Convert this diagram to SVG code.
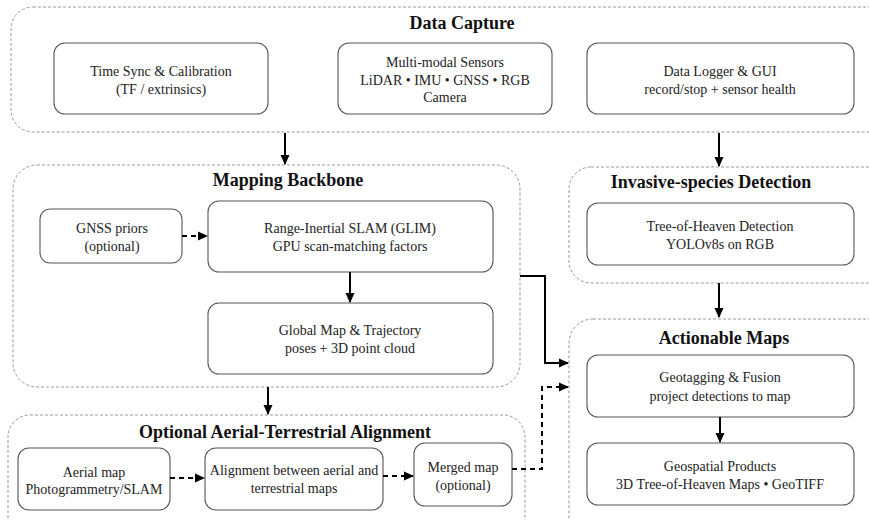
<svg xmlns="http://www.w3.org/2000/svg" width="869" height="520" viewBox="0 0 869 520">
  <style>
    .cluster { fill: none; stroke: #999; stroke-width: 1; stroke-dasharray: 3 2; }
    .node { fill: #fff; stroke: #555; stroke-width: 1.1; }
    .title { font-family: "Liberation Serif", "Times New Roman", serif; font-size: 18px; font-weight: bold; fill: #111; text-anchor: middle; }
    .label { font-family: "Liberation Serif", "Times New Roman", serif; font-size: 14px; fill: #222; text-anchor: middle; }
    .edge { fill: none; stroke: #000; stroke-width: 2; }
    .dashed { stroke-dasharray: 5 4; }
  </style>
  <defs>
    <marker id="arrow" viewBox="0 0 10 10" refX="9" refY="5" markerWidth="10" markerHeight="10" markerUnits="userSpaceOnUse" orient="auto">
      <path d="M0,0.5 L10,5 L0,9.5 z" fill="#000"/>
    </marker>
  </defs>
  <rect width="869" height="520" fill="#fff"/>

  <!-- clusters -->
  <g id="cluster-capture">
    <rect class="cluster" x="11" y="7" width="890" height="125" rx="22"/>
    <text class="title" x="462" y="29">Data Capture</text>
  </g>
  <g id="cluster-mapping">
    <rect class="cluster" x="13" y="165" width="507" height="222" rx="24"/>
    <text class="title" x="288" y="186">Mapping Backbone</text>
  </g>
  <g id="cluster-alignment">
    <rect class="cluster" x="8" y="415" width="517" height="140" rx="22"/>
    <text class="title" x="285" y="438">Optional Aerial-Terrestrial Alignment</text>
  </g>
  <g id="cluster-detection">
    <rect class="cluster" x="569" y="167" width="330" height="116" rx="22"/>
    <text class="title" x="711" y="188">Invasive-species Detection</text>
  </g>
  <g id="cluster-maps">
    <rect class="cluster" x="569" y="319" width="330" height="230" rx="24"/>
    <text class="title" x="724" y="344">Actionable Maps</text>
  </g>

  <!-- nodes -->
  <g id="time-sync">
    <rect class="node" x="54" y="43" width="214" height="71" rx="11"/>
    <text class="label" x="161" y="76">Time Sync &amp; Calibration</text>
    <text class="label" x="161" y="94">(TF / extrinsics)</text>
  </g>
  <g id="sensors">
    <rect class="node" x="338" y="43" width="214" height="71" rx="11"/>
    <text class="label" x="445" y="67">Multi-modal Sensors</text>
    <text class="label" x="445" y="85">LiDAR • IMU • GNSS • RGB</text>
    <text class="label" x="445" y="102">Camera</text>
  </g>
  <g id="logger">
    <rect class="node" x="587" y="43" width="267" height="71" rx="11"/>
    <text class="label" x="720" y="76">Data Logger &amp; GUI</text>
    <text class="label" x="720" y="94">record/stop + sensor health</text>
  </g>
  <g id="gnss-priors">
    <rect class="node" x="40" y="209" width="142" height="54" rx="10"/>
    <text class="label" x="112" y="233">GNSS priors</text>
    <text class="label" x="112" y="251">(optional)</text>
  </g>
  <g id="slam">
    <rect class="node" x="208" y="201" width="285" height="71" rx="11"/>
    <text class="label" x="350" y="233">Range-Inertial SLAM (GLIM)</text>
    <text class="label" x="350" y="251">GPU scan-matching factors</text>
  </g>
  <g id="global-map">
    <rect class="node" x="208" y="303" width="285" height="71" rx="11"/>
    <text class="label" x="350" y="335">Global Map &amp; Trajectory</text>
    <text class="label" x="350" y="353">poses + 3D point cloud</text>
  </g>
  <g id="aerial-map">
    <rect class="node" x="18" y="448" width="152" height="62" rx="11"/>
    <text class="label" x="94" y="477">Aerial map</text>
    <text class="label" x="94" y="494">Photogrammetry/SLAM</text>
  </g>
  <g id="alignment">
    <rect class="node" x="205" y="448" width="178" height="62" rx="11"/>
    <text class="label" x="294" y="475">Alignment between aerial and</text>
    <text class="label" x="294" y="493">terrestrial maps</text>
  </g>
  <g id="merged-map">
    <rect class="node" x="414" y="443" width="98" height="63" rx="11"/>
    <text class="label" x="463" y="472">Merged map</text>
    <text class="label" x="463" y="490">(optional)</text>
  </g>
  <g id="toh-detection">
    <rect class="node" x="587" y="203" width="267" height="62" rx="11"/>
    <text class="label" x="720" y="231">Tree-of-Heaven Detection</text>
    <text class="label" x="720" y="249">YOLOv8s on RGB</text>
  </g>
  <g id="geotagging">
    <rect class="node" x="587" y="355" width="267" height="62" rx="11"/>
    <text class="label" x="720" y="382">Geotagging &amp; Fusion</text>
    <text class="label" x="720" y="401">project detections to map</text>
  </g>
  <g id="products">
    <rect class="node" x="587" y="443" width="267" height="62" rx="11"/>
    <text class="label" x="720" y="471">Geospatial Products</text>
    <text class="label" x="720" y="489">3D Tree-of-Heaven Maps • GeoTIFF</text>
  </g>

  <!-- connectors -->
  <g id="connectors">
    <path class="edge" d="M285,133 L285,164" marker-end="url(#arrow)"/>
    <path class="edge" d="M719,133 L719,166" marker-end="url(#arrow)"/>
    <path class="edge dashed" d="M182,236 L207,236" marker-end="url(#arrow)"/>
    <path class="edge" d="M350,272 L350,302" marker-end="url(#arrow)"/>
    <path class="edge" d="M520,276 L545,276 L545,363 L568,363" marker-end="url(#arrow)"/>
    <path class="edge" d="M268,387 L268,414" marker-end="url(#arrow)"/>
    <path class="edge dashed" d="M170,478 L204,478" marker-end="url(#arrow)"/>
    <path class="edge dashed" d="M383,476 L413,476" marker-end="url(#arrow)"/>
    <path class="edge dashed" d="M512,469 L542,469 L542,387 L568,387" marker-end="url(#arrow)"/>
    <path class="edge" d="M719,283 L719,317" marker-end="url(#arrow)"/>
    <path class="edge" d="M720,417 L720,442" marker-end="url(#arrow)"/>
  </g>
</svg>
